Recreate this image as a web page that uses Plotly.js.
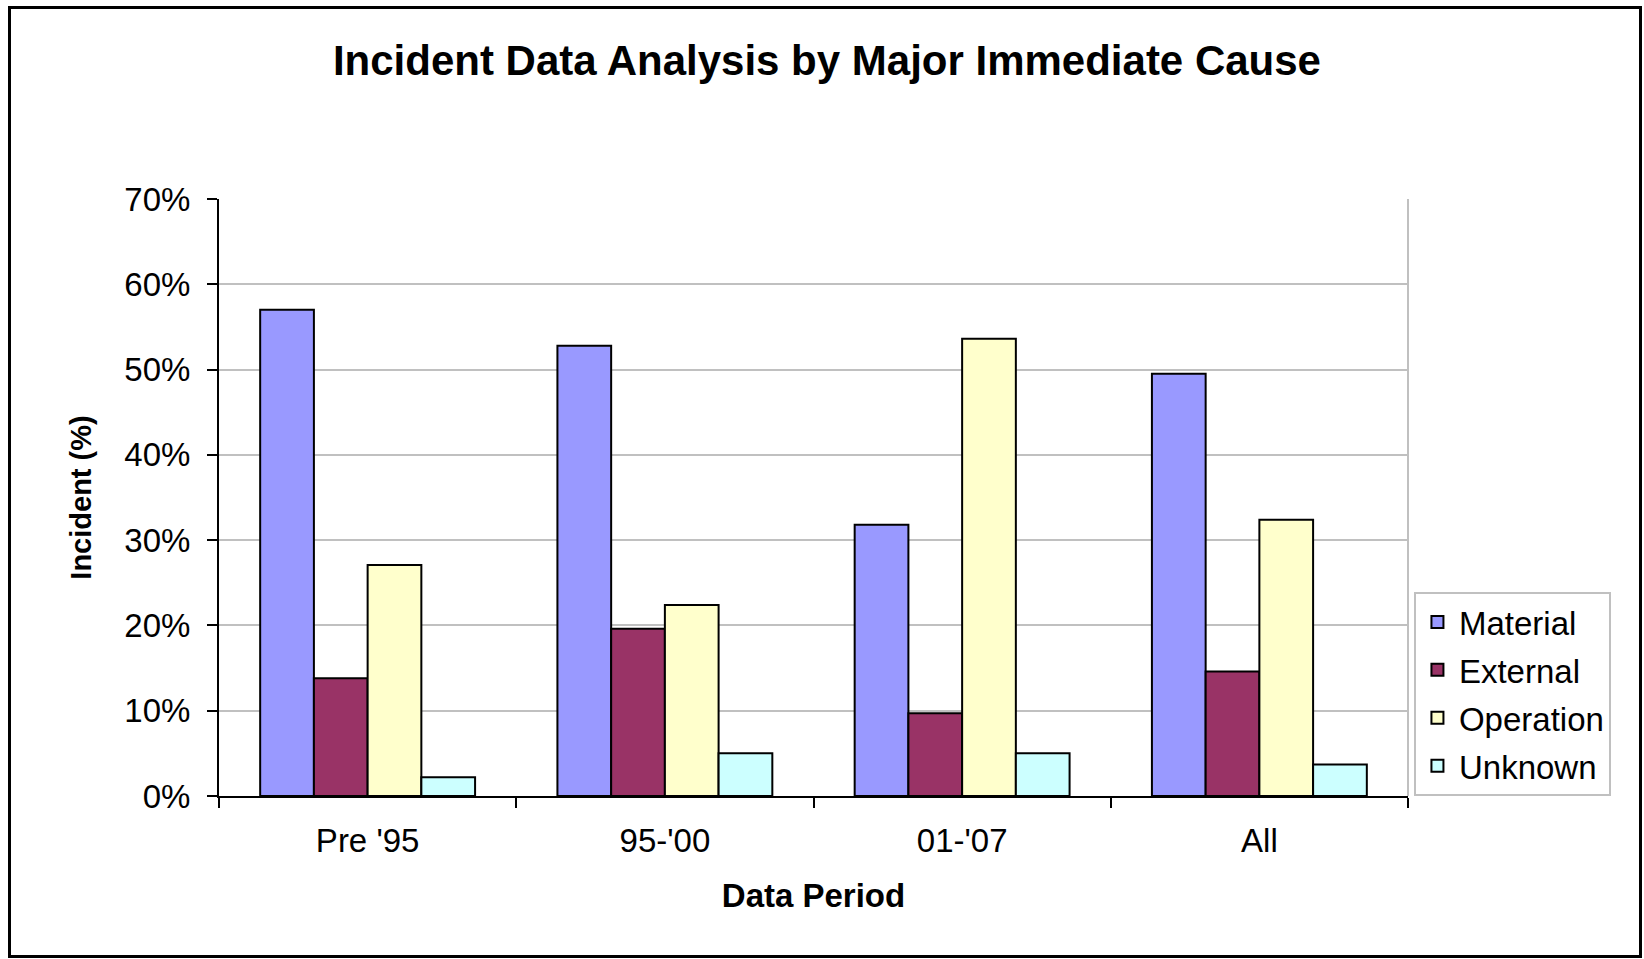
<!DOCTYPE html>
<html>
<head>
<meta charset="utf-8">
<script src="https://cdn.plot.ly/plotly-3.0.1.min.js"></script>
<style>
  html, body { margin: 0; padding: 0; background: #fff; }
  #wrap { position: relative; width: 1644px; height: 959px; }
  #chart { position: absolute; left: 0; top: 0; width: 1644px; height: 959px; }
  #frame { position: absolute; left: 8px; top: 6px; width: 1628px; height: 946px; border: 3px solid #000; pointer-events: none; }
</style>
</head>
<body>
<div id="wrap">
  <div id="chart"></div>
  <div id="frame"></div>
</div>
<script>
const categories = ["Pre '95", "95-'00", "01-'07", "All"];
const seriesNames = ["Material", "External", "Operation", "Unknown"];
const material  = [0.570, 0.528, 0.318, 0.495];
const external  = [0.138, 0.196, 0.097, 0.146];
const operation = [0.271, 0.224, 0.536, 0.324];
const unknown   = [0.022, 0.050, 0.050, 0.037];
const colors = ["#9999FF", "#993366", "#FFFFCC", "#CCFFFF"];
const yTickVals = [0, 0.1, 0.2, 0.3, 0.4, 0.5, 0.6, 0.7];

const FONT = "Arial, 'Liberation Sans', sans-serif";
const values = [material, external, operation, unknown];

const traces = values.map((v, i) => ({
  type: 'bar',
  name: seriesNames[i],
  x: categories,
  y: v,
  marker: { color: colors[i], line: { color: '#000', width: 2 } },
  legendgroup: seriesNames[i],
  hoverinfo: 'x+y+name'
}));

const layout = {
  width: 1644,
  height: 959,
  margin: { l: 219, r: 236, t: 199, b: 163, pad: 0 },
  paper_bgcolor: '#fff',
  plot_bgcolor: '#fff',
  barmode: 'group',
  bargap: 0.277,
  bargroupgap: 0,
  font: { family: FONT, color: '#000', size: 33 },
  title: {
    text: '<b>Incident Data Analysis by Major Immediate Cause</b>',
    font: { family: FONT, size: 42, color: '#000' },
    x: 0.503, xref: 'container', xanchor: 'center',
    y: 1 - 60 / 959, yref: 'container', yanchor: 'middle'
  },
  xaxis: {
    type: 'category',
    tickson: 'boundaries',
    ticks: 'outside', ticklen: 10, tickwidth: 2, tickcolor: '#000',
    showline: true, linecolor: '#000', linewidth: 2,
    showgrid: false,
    tickfont: { family: FONT, size: 33, color: '#000' },
    ticklabelstandoff: 14,
    title: { text: '<b>Data Period</b>', font: { family: FONT, size: 33, color: '#000' }, standoff: 26 }
  },
  yaxis: {
    range: [0, 0.7],
    tickvals: yTickVals,
    tickformat: '.0%',
    ticks: 'outside', ticklen: 10, tickwidth: 2, tickcolor: '#000',
    showline: true, linecolor: '#000', linewidth: 2,
    showgrid: true, gridcolor: '#c0c0c0', gridwidth: 2,
    zeroline: false,
    tickfont: { family: FONT, size: 33, color: '#000' },
    ticklabelstandoff: 10,
    title: { text: '<b>Incident (%)</b>', font: { family: FONT, size: 29, color: '#000' }, standoff: 24 }
  },
  legend: {
    x: 1.005, xanchor: 'left',
    y: (796 - 592) / 597, yanchor: 'top',
    bordercolor: '#c0c0c0', borderwidth: 2,
    bgcolor: '#fff',
    font: { family: FONT, size: 33, color: '#000' },
    traceorder: 'grouped',
    tracegroupgap: 2,
    itemwidth: 33
  },
  shapes: [
    { type: 'line', xref: 'paper', yref: 'paper', x0: 1, x1: 1, y0: 0, y1: 1, line: { color: '#c0c0c0', width: 2 } }
  ],
  showlegend: true
};

Plotly.newPlot('chart', traces, layout, { displayModeBar: false, staticPlot: true });
</script>
</body>
</html>
